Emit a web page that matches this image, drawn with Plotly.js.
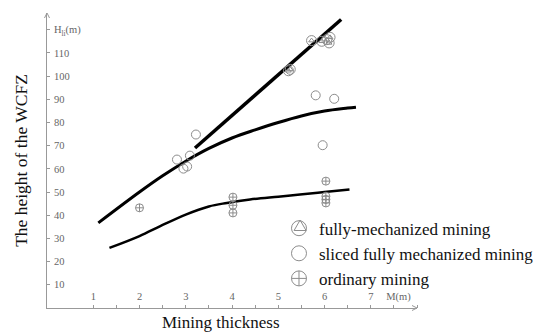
<!DOCTYPE html>
<html><head><meta charset="utf-8">
<script src="https://cdn.plot.ly/plotly-3.0.1.min.js"></script>
<style>html,body{margin:0;padding:0;background:#fff}#chart{width:550px;height:335px}</style>
</head><body><div id="chart"></div>
<script>
// Measured points: mining thickness M (m) and WCFZ height H (m)
const fullyX = [5.22, 5.26, 5.72, 5.94, 6.05, 6.12, 6.10];
const fullyY = [102.3, 102.9, 115.3, 115.0, 115.7, 116.7, 114.3];
const slicedX = [2.81, 3.09, 2.95, 3.03, 3.22, 5.81, 6.21, 5.96];
const slicedY = [64.0, 65.7, 60.1, 61.0, 74.8, 91.7, 90.2, 70.2];
const ordinaryX = [2.0, 4.02, 4.02, 4.02, 6.03, 6.03, 6.03, 6.03];
const ordinaryY = [43.2, 47.8, 44.3, 41.0, 54.7, 48.2, 46.8, 45.3];
// Fitted curves
const fitFullyX = [3.20, 6.36];
const fitFullyY = [69.0, 124.4];
const fitSlicedX = [1.11, 2.0, 2.5, 3.0, 3.5, 4.0, 4.5, 5.0, 5.5, 6.0, 6.5, 6.68];
const fitSlicedY = [36.7, 50.0, 57.0, 63.3, 68.8, 73.3, 76.8, 80.0, 82.8, 84.9, 86.2, 86.6];
const fitOrdX = [1.35, 2.0, 2.45, 3.0, 3.5, 3.89, 4.39, 5.0, 5.47, 6.0, 6.54];
const fitOrdY = [25.9, 31.0, 35.3, 40.3, 43.8, 45.3, 46.8, 48.0, 48.9, 50.0, 51.1];
// Axis labels
const xTickVals = [1, 2, 3, 4, 5, 6, 7, 7.6];
const xTickText = ['1', '2', '3', '4', '5', '6', '7', 'M(m)'];
const yTickVals = [10, 20, 30, 40, 50, 60, 70, 80, 90, 100, 110, 120];
const yTickText = ['10', '20', '30', '40', '50', '60', '70', '80', '90', '100', '110', 'H<sub>li</sub>(m)'];
const seriesNames = ['fully-mechanized mining', 'sliced fully mechanized mining', 'ordinary mining'];
const xTitle = 'Mining thickness';
const yTitle = 'The height of the WCFZ';

const gray = '#8c8c8c';
const serif = 'Liberation Serif, Times New Roman, serif';

const traces = [
  {x: fitFullyX, y: fitFullyY, mode: 'lines', line: {color: '#000', width: 3.5}, showlegend: false, hoverinfo: 'skip'},
  {x: fitSlicedX, y: fitSlicedY, mode: 'lines', line: {color: '#000', width: 3, shape: 'spline'}, showlegend: false, hoverinfo: 'skip'},
  {x: fitOrdX, y: fitOrdY, mode: 'lines', line: {color: '#000', width: 2.5, shape: 'spline'}, showlegend: false, hoverinfo: 'skip'},
  {x: fullyX, y: fullyY, mode: 'markers', marker: {symbol: 'circle-open', size: 10, color: gray, line: {width: 1}}, showlegend: false},
  {x: fullyX, y: fullyY, mode: 'markers', marker: {symbol: 'triangle-up-open', size: 5, color: gray, line: {width: 1}}, showlegend: false},
  {x: slicedX, y: slicedY, mode: 'markers', marker: {symbol: 'circle-open', size: 9, color: gray, line: {width: 1}}, showlegend: false},
  {x: ordinaryX, y: ordinaryY, mode: 'markers', marker: {symbol: 'circle-cross-open', size: 8, color: gray, line: {width: 1}}, showlegend: false},
  // legend entries
  {x: [null], y: [null], name: seriesNames[0], mode: 'markers', marker: {symbol: 'circle-open', size: 15, color: gray, line: {width: 1}}},
  {x: [null], y: [null], name: seriesNames[1], mode: 'markers', marker: {symbol: 'circle-open', size: 15, color: gray, line: {width: 1}}},
  {x: [null], y: [null], name: seriesNames[2], mode: 'markers', marker: {symbol: 'circle-cross-open', size: 15, color: gray, line: {width: 1}}}
];

const ax = {color: '#999', width: 1};
const layout = {
  width: 550, height: 335,
  margin: {l: 47, r: 133, t: 13, b: 27, autoexpand: false},
  paper_bgcolor: '#fff', plot_bgcolor: '#fff',
  showlegend: true,
  legend: {x: 0.627, xanchor: 'left', y: 0.33, yanchor: 'top', bgcolor: 'rgba(0,0,0,0)',
           font: {family: serif, size: 17, color: '#111'}},
  xaxis: {range: [0, 8.0], automargin: true, showgrid: false, zeroline: false, showline: true, linecolor: '#999', linewidth: 1,
          tickvals: xTickVals, ticktext: xTickText, ticks: '', ticklabelposition: 'inside', ticklabelstandoff: 5,
          tickfont: {family: serif, size: 10.5, color: '#666'},
          minor: {dtick: 0.5, tick0: 0, ticks: 'inside', ticklen: 3, tickcolor: '#999', showgrid: false}},
  yaxis: {range: [0, 127.2], automargin: true, showgrid: false, zeroline: false, showline: true, linecolor: '#999', linewidth: 1,
          tickvals: yTickVals, ticktext: yTickText, ticks: 'inside', ticklen: 3, tickcolor: '#999',
          ticklabelposition: 'inside', ticklabelstandoff: 3, tickfont: {family: serif, size: 10.5, color: '#666'},
          title: {text: yTitle, font: {family: serif, size: 17.5, color: '#111'}, standoff: 21}},
  annotations: [
    {xref: 'paper', yref: 'paper', x: 0.47, y: 0, xanchor: 'center', yanchor: 'top', yshift: -3, showarrow: false,
     text: xTitle, font: {family: serif, size: 17, color: '#111'}}
  ],
  shapes: [
    // triangle inside the first legend symbol
    {type: 'path', xref: 'paper', yref: 'paper', path: 'M 0.684 0.298 L 0.6678 0.2627 L 0.7002 0.2627 Z', line: {color: gray, width: 1}},
    // axis arrowheads
    {type: 'line', xref: 'paper', yref: 'paper', x0: 1, y0: 0, x1: 0.9865, y1: 0.0085, line: ax},
    {type: 'line', xref: 'paper', yref: 'paper', x0: 1, y0: 0, x1: 0.9865, y1: -0.0085, line: ax},
    {type: 'line', xref: 'paper', yref: 'paper', x0: 0, y0: 1, x1: 0.0068, y1: 0.983, line: ax},
    {type: 'line', xref: 'paper', yref: 'paper', x0: 0, y0: 1, x1: -0.0068, y1: 0.983, line: ax}
  ]
};

Plotly.newPlot('chart', traces, layout, {displayModeBar: false, staticPlot: true});
</script>
</body></html>
